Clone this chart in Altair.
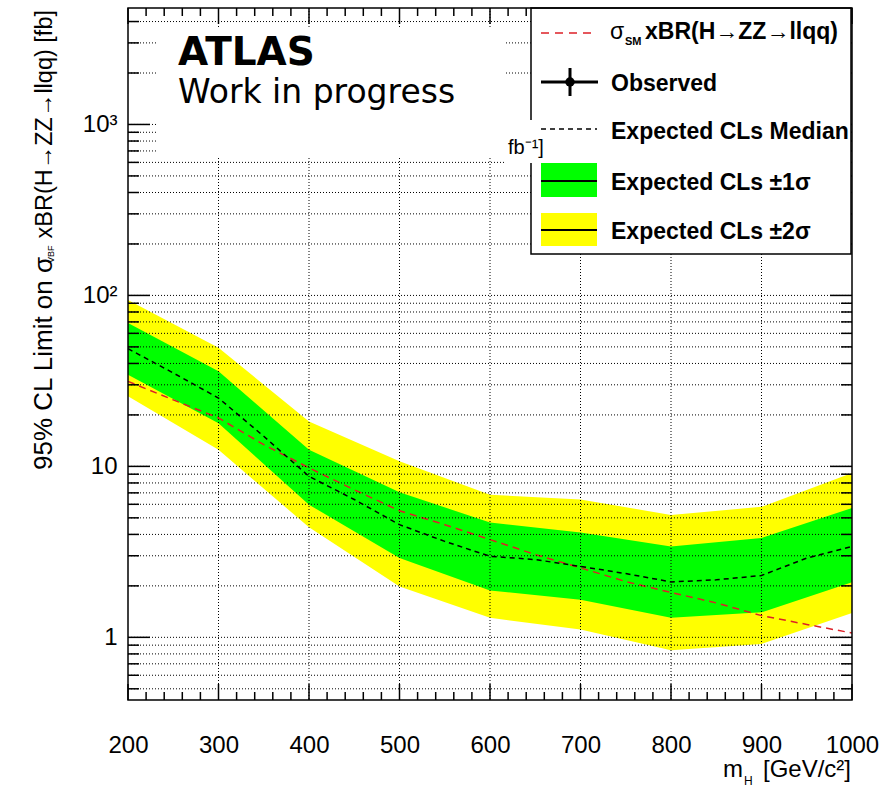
import altair as alt
import pandas as pd

# ---------------- data ----------------
MASS = [200, 300, 400, 500, 600, 700, 800, 900, 1000]
YEL_HI = [94.0, 49.4, 18.3, 10.7, 6.83, 6.4, 5.2, 5.8, 9.15]
YEL_LO = [25.7, 12.5, 4.4, 1.98, 1.30, 1.11, 0.84, 0.915, 1.39]
GRN_HI = [69.0, 36.0, 12.5, 7.05, 4.7, 4.11, 3.4, 3.81, 5.7]
GRN_LO = [34.4, 17.9, 5.97, 2.91, 1.88, 1.66, 1.30, 1.40, 2.10]

MED_M = [200, 250, 300, 350, 400, 450, 500, 550, 600, 650, 700, 750, 800, 850, 900, 950, 1000]
MED = [48.8, 35.2, 25.1, 15.0, 8.74, 6.4, 4.56, 3.64, 2.98, 2.85, 2.60, 2.36, 2.11, 2.17, 2.30, 2.91, 3.40]

SM_M = [200, 250, 300, 350, 400, 450, 500, 550, 600, 650, 700, 750, 800, 850, 900, 950, 1000]
SM = [31.4, 24.5, 19.2, 13.4, 9.8, 7.3, 5.5, 4.56, 3.73, 3.05, 2.55, 2.12, 1.83, 1.59, 1.34, 1.19, 1.06]

X_LABELS = [200, 300, 400, 500, 600, 700, 800, 900, 1000]
X_GRID = [300, 400, 500, 600, 700, 800, 900]
X_MINOR = [m for m in range(200, 1001, 20) if m % 100 != 0]
Y_MAJOR = [1, 10, 100, 1000]
Y_MINOR = ([0.5, 0.6, 0.7, 0.8, 0.9] + [2, 3, 4, 5, 6, 7, 8, 9]
           + [20, 30, 40, 50, 60, 70, 80, 90] + [200, 300, 400, 500, 600, 700, 800, 900]
           + [2000, 3000, 4000])
Y_GRID = Y_MAJOR + Y_MINOR

# ---------------- styling ----------------
W, H = 724, 692
FONT = "Liberation Sans"

xs = alt.Scale(domain=[200, 1000], nice=False, zero=False)
ys = alt.Scale(type="log", domain=[0.43, 4800], nice=False)

x_axis = alt.Axis(values=X_LABELS, title=None, grid=False, ticks=False, tickSize=0,
                  domain=False, labelFont=FONT, labelFontSize=24, labelColor="black",
                  labelPadding=52, labelBaseline="alphabetic", labelFlush=False,
                  labelOverlap=False, format="d")
y_axis = alt.Axis(values=Y_MAJOR, title=None, grid=False, ticks=False, tickSize=0,
                  domain=False, labelFont=FONT, labelFontSize=24, labelColor="black",
                  labelPadding=11, labelOverlap=False, labelFlush=False,
                  labelExpr="datum.value >= 999 ? '10³' : datum.value >= 99 ? '10²' : datum.value >= 9 ? '10' : '1'")

X = lambda f: alt.X(f, scale=xs, axis=x_axis)
Y = lambda f: alt.Y(f, scale=ys, axis=y_axis)

band = pd.DataFrame({"m": MASS, "ylo": YEL_LO, "yhi": YEL_HI, "glo": GRN_LO, "ghi": GRN_HI})
med = pd.DataFrame({"m": MED_M, "v": MED})
sm = pd.DataFrame({"m": SM_M, "v": SM})

ONE = pd.DataFrame({"t": [""]})

layers = []
layers.append(alt.Chart(band).mark_area(color="#ffff00", opacity=1, interpolate="linear")
              .encode(x=X("m:Q"), y=Y("ylo:Q"), y2="yhi:Q"))
layers.append(alt.Chart(band).mark_area(color="#00ff00", opacity=1, interpolate="linear")
              .encode(x=X("m:Q"), y=Y("glo:Q"), y2="ghi:Q"))
layers.append(alt.Chart(sm).mark_line(color="#dd2027", strokeWidth=1.5, strokeDash=[7, 5])
              .encode(x=X("m:Q"), y=Y("v:Q")))
layers.append(alt.Chart(med).mark_line(color="black", strokeWidth=1.5, strokeDash=[5, 4])
              .encode(x=X("m:Q"), y=Y("v:Q")))

# grid lines
layers.append(alt.Chart(pd.DataFrame({"m": X_GRID})).mark_rule(color="black", strokeWidth=1, strokeDash=[1, 2])
              .encode(x=X("m:Q")))
layers.append(alt.Chart(pd.DataFrame({"v": Y_GRID})).mark_rule(color="black", strokeWidth=1, strokeDash=[1, 2])
              .encode(y=Y("v:Q")))

# ticks (inside the frame, all four sides)
def yticks(vals, x1, x2):
    return alt.Chart(pd.DataFrame({"v": vals})).mark_rule(color="black", strokeWidth=1.5).encode(
        y=Y("v:Q"), x=alt.value(x1), x2=alt.value(x2))

def xticks(vals, y1, y2):
    return alt.Chart(pd.DataFrame({"m": vals})).mark_rule(color="black", strokeWidth=1.5).encode(
        x=X("m:Q"), y=alt.value(y1), y2=alt.value(y2))

layers += [yticks(Y_MAJOR, 0, 22), yticks(Y_MINOR, 0, 11),
           yticks(Y_MAJOR, W - 22, W), yticks(Y_MINOR, W - 11, W),
           xticks(X_LABELS, H - 16, H), xticks(X_MINOR, H - 8, H),
           xticks(X_LABELS, 0, 16), xticks(X_MINOR, 0, 8)]


def rect(x1, x2, y1, y2, fill="white", stroke="white", sw=0, fo=1):
    return alt.Chart(ONE).mark_rect(fill=fill, fillOpacity=fo, stroke=stroke, strokeWidth=sw).encode(
        x=alt.value(x1), x2=alt.value(x2), y=alt.value(y1), y2=alt.value(y2))


def rule(x1, x2, y1, y2, color="black", sw=1.5, dash=None):
    kw = dict(color=color, strokeWidth=sw)
    if dash:
        kw["strokeDash"] = dash
    return alt.Chart(ONE).mark_rule(**kw).encode(
        x=alt.value(x1), x2=alt.value(x2), y=alt.value(y1), y2=alt.value(y2))


def txt(s, x, y, size, font=FONT, weight="normal", align="left", angle=0, baseline="alphabetic"):
    kw = dict(font=font, fontSize=size, fontWeight=weight, align=align, baseline=baseline, color="black")
    if angle:
        kw["angle"] = angle
    return alt.Chart(pd.DataFrame({"t": [s]})).mark_text(**kw).encode(
        x=alt.value(x), y=alt.value(y), text="t:N")


# ATLAS box
layers.append(rect(29, 377, 20, 150))
layers.append(txt("ATLAS", 50, 57, 39, font="DejaVu Sans", weight="bold"))
layers.append(txt("Work in progress", 50, 95, 33, font="DejaVu Sans"))

# legend
LX1, LX2 = 413, 469
layers.append(rect(403, 723, 0, 246, fill="white", stroke="black", sw=1.5))
layers.append(rule(LX1, LX2 - 1, 25, 25, color="#dd2027", sw=1.5, dash=[8, 6]))
layers.append(txt("σ", 482, 31, 23))
layers.append(txt("SM", 497, 37, 11, weight="bold"))
layers.append(txt("xBR(H→ZZ→llqq)", 517, 31, 23, weight="bold"))

layers.append(rule(LX1, LX2 + 1, 74, 74, sw=3))
layers.append(rule(442, 442, 60, 88, sw=3))
layers.append(alt.Chart(ONE).mark_point(filled=True, shape="circle", size=90, color="black", opacity=1)
              .encode(x=alt.value(442), y=alt.value(74)))
layers.append(txt("Observed", 483, 82.5, 23, weight="bold"))

layers.append(rule(LX1, LX2, 121, 121, sw=1.5, dash=[5, 4]))
layers.append(txt("Expected CLs Median", 483, 131, 23, weight="bold"))

layers.append(rect(LX1, LX2, 155, 189, fill="#00ff00", stroke="#00ff00", sw=0))
layers.append(rule(LX1, LX2, 173, 173, sw=2))
layers.append(txt("Expected CLs ±1σ", 483, 181.5, 23, weight="bold"))

layers.append(rect(LX1, LX2, 205, 238, fill="#ffff00", stroke="#ffff00", sw=0))
layers.append(rule(LX1, LX2, 222, 222, sw=2))
layers.append(txt("Expected CLs ±2σ", 483, 230.5, 23, weight="bold"))

# remnant of luminosity label
layers.append(rect(377, 406, 112, 155))
layers.append(txt("fb⁻¹]", 380, 146, 20))

# frame
layers.append(rect(0, W, 0, H, fill="white", stroke="black", sw=1.5, fo=0))

# axis titles
layers.append(txt("95% CL Limit on σ", -76, 462, 26, angle=270))
layers.append(txt("VBF", -74, 255, 9, angle=270))
layers.append(txt("xBR(H→ZZ→llqq) [fb]", -76, 2, 23.5, align="right", angle=270))
layers.append(txt("[GeV/c²]", 723, 769, 24, align="right"))
layers.append(txt("m", 615, 769, 24, align="right"))
layers.append(txt("H", 616, 777, 12))

chart = alt.layer(*layers).properties(
    width=W, height=H,
    autosize=alt.AutoSizeParams(type="none"),
    padding={"left": 128, "top": 8, "right": 39, "bottom": 88},
    background="white",
).configure_view(strokeWidth=0)

chart.save("out.html", embed_options={"renderer": "svg", "actions": False})
